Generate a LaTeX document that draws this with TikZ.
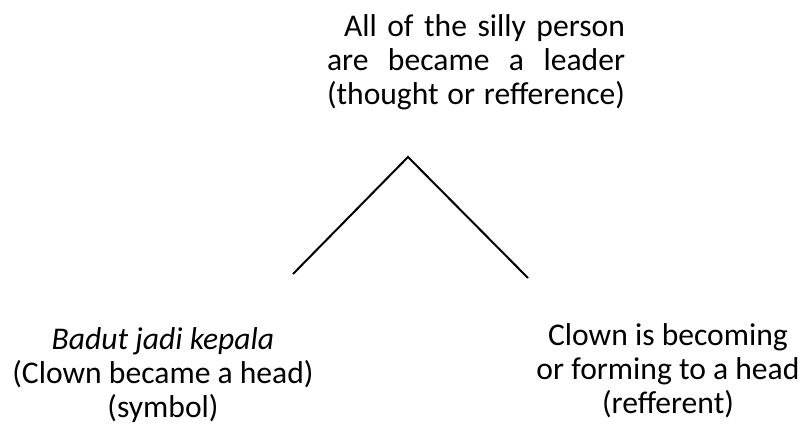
\documentclass[tikz,border=0pt]{standalone}
\usepackage{fontspec}
\setmainfont{Carlito}
\usepackage{xcolor}

\tikzset{
	label text/.style={font=\fontsize{15.8pt}{17.2pt}\selectfont, inner sep=0pt, align=center, anchor=base},
	top text/.style={font=\fontsize{15.8pt}{17pt}\selectfont, inner sep=0pt, align=left, text width=149pt, anchor=base},
	leg/.style={line width=1pt, black}
}

\begin{document}
\begin{tikzpicture}[x=0.5pt, y=-0.5pt]
		\useasboundingbox (0,0) rectangle (805,433);
		% the thought at the top
		\node[top text] (thought) at (476,37) {\hfill All of the silly person\\
			are\hfill became\hfill a\hfill leader\\
			(thought\hfill or\hfill refference)};
		% the two corners below
		\node[label text] (symbol) at (163,418) {\textit{Badut jadi kepala}\\(Clown became a head)\\(symbol)};
		\node[label text] (referent) at (668,414) {Clown is becoming\\or forming to a head\\(refferent)};
		% the two legs
		\coordinate (apex) at (408,157);
		\coordinate (leftend) at (293,274);
		\coordinate (rightend) at (528,278);
		\draw[leg] (leftend) -- (apex) -- (rightend);
	\end{tikzpicture}
\end{document}
